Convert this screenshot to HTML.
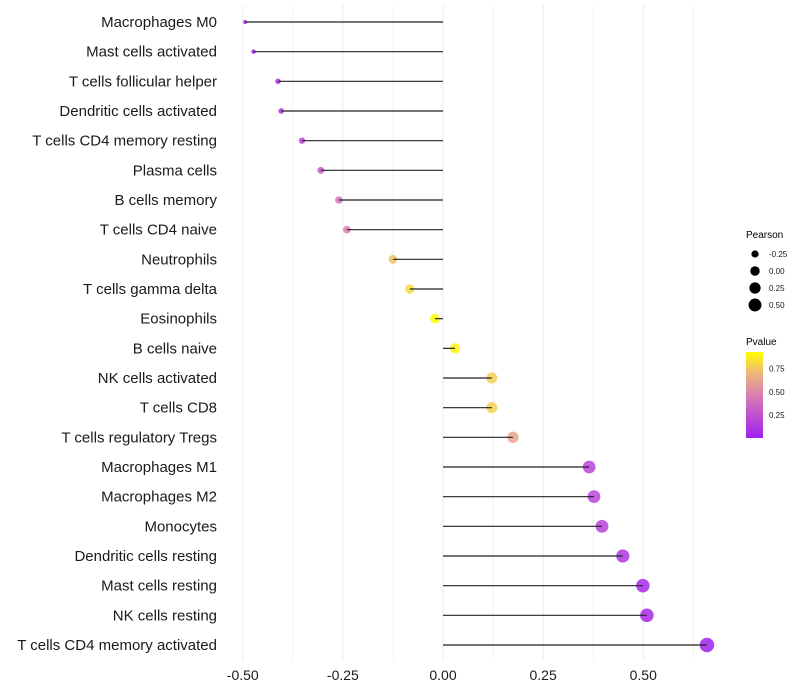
<!DOCTYPE html>
<html><head><meta charset="utf-8"><style>
body{margin:0;background:#fff;}
svg{display:block;font-family:"Liberation Sans",sans-serif;}
</style></head><body>
<svg id="chart" width="800" height="700">
<defs><linearGradient id="pg" x1="0" y1="1" x2="0" y2="0">
<stop offset="0" stop-color="#A020F0"/><stop offset="0.25" stop-color="#C04DD2"/><stop offset="0.5" stop-color="#D880B0"/><stop offset="0.75" stop-color="#EDB57E"/><stop offset="1" stop-color="#FFFF00"/>
</linearGradient></defs>
<g id="grid"></g>
<g id="marks"></g>
<g id="ylabels"></g>
<g id="xlabels"></g>
<g>
<text x="746" y="238" font-size="10" fill="#000">Pearson</text>
<g id="sizeLeg"></g>
</g>
<g>
<text x="746" y="345" font-size="10" fill="#000">Pvalue</text>
<rect x="746" y="352" width="17" height="86" fill="url(#pg)"/>
<g id="colLeg"></g>
</g>
</svg>
<script>
const categories=["Macrophages M0","Mast cells activated","T cells follicular helper","Dendritic cells activated","T cells CD4 memory resting","Plasma cells","B cells memory","T cells CD4 naive","Neutrophils","T cells gamma delta","Eosinophils","B cells naive","NK cells activated","T cells CD8","T cells regulatory  Tregs ","Macrophages M1","Macrophages M2","Monocytes","Dendritic cells resting","Mast cells resting","NK cells resting","T cells CD4 memory activated"];
const pearson=[-0.494,-0.473,-0.412,-0.404,-0.352,-0.305,-0.260,-0.240,-0.125,-0.083,-0.020,0.030,0.122,0.122,0.175,0.365,0.377,0.397,0.449,0.499,0.509,0.659];
const pvalue=[0.02,0.04,0.1,0.12,0.2,0.3,0.45,0.5,0.8,0.88,0.99,0.97,0.84,0.84,0.68,0.2,0.2,0.18,0.12,0.06,0.05,0.003];
const xTicks=[-0.5,-0.25,0,0.25,0.5];
const xTickLabels=["-0.50","-0.25","0.00","0.25","0.50"];
const sizeLegVals=[-0.25,0,0.25,0.5];
const colLegVals=[0.25,0.5,0.75];

const NS="http://www.w3.org/2000/svg";
const xs=v=>443+v*400.5;
const ys=i=>22+i*(623/21);
const rs=v=>Math.sqrt(Math.max(1,25+42*v));
const stops=[[0,[160,32,240]],[0.25,[192,77,210]],[0.5,[216,128,176]],[0.75,[237,181,126]],[1,[255,255,0]]];
function col(p){for(let k=1;k<stops.length;k++){if(p<=stops[k][0]){const a=stops[k-1],b=stops[k];const t=(p-a[0])/(b[0]-a[0]);return 'rgb('+a[1].map((c,j)=>Math.round(c+(b[1][j]-c)*t)).join(',')+')';}}return 'rgb(255,255,0)';}
function mk(tag,attrs,parent){const e=document.createElementNS(NS,tag);for(const k in attrs)e.setAttribute(k,attrs[k]);parent.appendChild(e);return e;}
const grid=document.getElementById('grid'),marks=document.getElementById('marks'),yl=document.getElementById('ylabels'),xl=document.getElementById('xlabels');
for(let v=-0.5;v<=0.626;v+=0.125){const g=mk('line',{x1:xs(v),x2:xs(v),y1:5,y2:660,stroke:'#ebebeb','stroke-width':Math.abs(v*4-Math.round(v*4))<1e-6?1:0.6},grid);

}
categories.forEach((c,i)=>{
 const y=ys(i);
 const t=mk('text',{x:217,y:y+5,'text-anchor':'end','font-size':15,fill:'#1a1a1a'},yl);t.textContent=c;
 
 
 const p=mk('circle',{cx:xs(pearson[i]),cy:y,r:rs(pearson[i]),fill:col(pvalue[i]),'fill-opacity':0.85},marks);
 
 
 const l=mk('line',{x1:xs(0),x2:xs(pearson[i]),y1:y,y2:y,stroke:'#222','stroke-width':1.2},marks);
 
 
});
xTicks.forEach((v,i)=>{const t=mk('text',{x:xs(v),y:680,'text-anchor':'middle','font-size':14,fill:'#1a1a1a'},xl);t.textContent=xTickLabels[i];
 
 });
const sl=document.getElementById('sizeLeg');
sizeLegVals.forEach((v,i)=>{const y=254+i*17;
 const c=mk('circle',{cx:755,cy:y,r:rs(v)*0.95,fill:'#000'},sl);
 
 
 const t=mk('text',{x:769,y:y+3,'font-size':8,fill:'#1a1a1a'},sl);t.textContent=v.toFixed(2);
 
 });
const cl=document.getElementById('colLeg');
colLegVals.forEach(v=>{const y=438-v*(86/0.93);
 const t=mk('text',{x:769,y:y+3,'font-size':8,fill:'#1a1a1a'},cl);t.textContent=v.toFixed(2);
 
 });
</script>
</body></html>
